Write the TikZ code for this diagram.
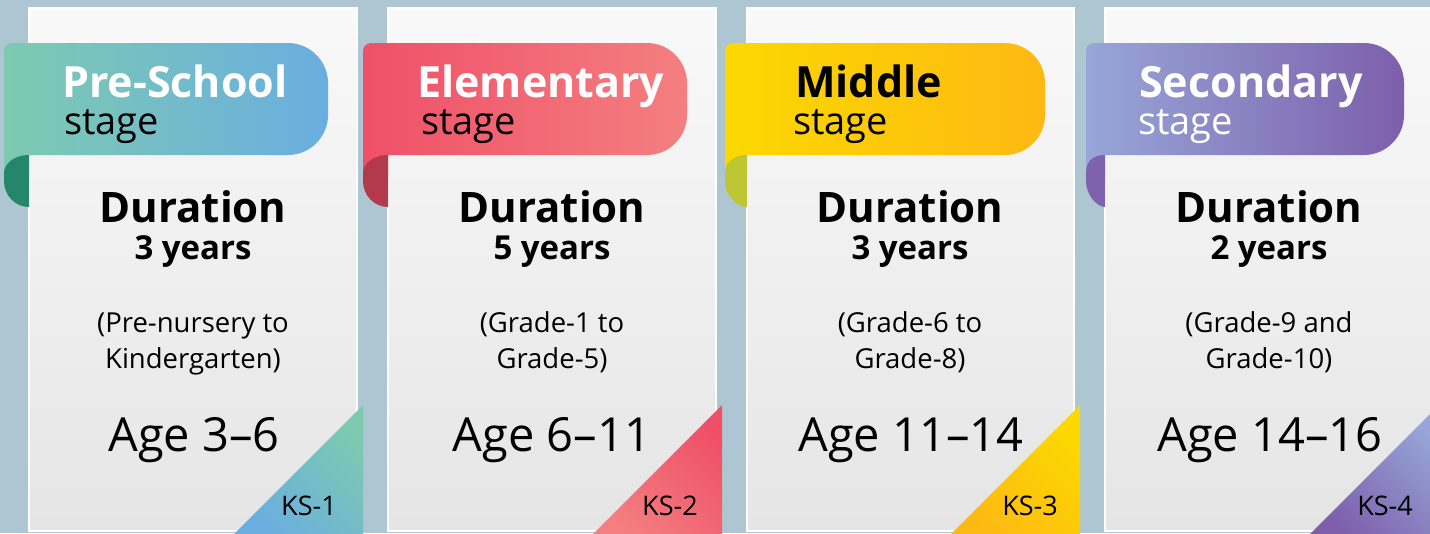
\documentclass[tikz,border=0pt]{standalone}
\usepackage{fontspec}
\setmainfont{Open Sans}
\definecolor{bg}{HTML}{AEC6D1}
\definecolor{cardT}{HTML}{F9F9F9}
\definecolor{cardB}{HTML}{E6E5E5}
\definecolor{oneA}{HTML}{7DCAB0}\definecolor{oneB}{HTML}{6AAEE0}\definecolor{oneF}{HTML}{24876B}
\definecolor{twoA}{HTML}{EF5068}\definecolor{twoB}{HTML}{F47F80}\definecolor{twoF}{HTML}{B23A4A}
\definecolor{thrA}{HTML}{FCD800}\definecolor{thrB}{HTML}{FDB913}\definecolor{thrF}{HTML}{BEC633}
\definecolor{fouA}{HTML}{97A6D8}\definecolor{fouB}{HTML}{7D5FAB}\definecolor{fouF}{HTML}{7E62AE}
\tikzset{
  ttl/.style={anchor=base west, inner sep=0pt, font=\fontsize{43}{43}\selectfont\bfseries},
  stg/.style={anchor=base west, inner sep=0pt, font=\fontsize{38}{38}\selectfont},
  dur/.style={anchor=base, inner sep=0pt, font=\fontsize{42}{42}\selectfont\bfseries},
  yrs/.style={anchor=base, inner sep=0pt, font=\fontsize{33}{33}\selectfont\bfseries},
  grd/.style={anchor=base, inner sep=0pt, font=\fontsize{27.5}{27.5}\selectfont},
  agetxt/.style={anchor=base, inner sep=0pt, font=\fontsize{47}{47}\selectfont},
  kstxt/.style={anchor=base, inner sep=0pt, font=\fontsize{27}{27}\selectfont},
}
% #1 card left, #2 card right, #3 banner left, #4 banner right, #5 triangle right, #6 colour prefix
\newcommand\stagecard[6]{%
  \shade[top color=cardT, bottom color=cardB, draw=white, line width=2.5pt] (#1,8) rectangle (#2,531);
  \shade[left color=#6A, right color=#6B]
    (#3,178) -- (#3,51) .. controls (#3,46.6) and ({#3+3.6},43) .. ({#3+8},43)
    -- ({#4-40},43) .. controls ({#4-18},43) and (#4,61) .. (#4,83)
    -- (#4,115) .. controls (#4,137) and ({#4-18},155) .. ({#4-40},155)
    -- (#1,155) -- (#1,178) -- cycle;
  \fill[#6F] (#1,155) .. controls ({#1-13.8},155) and (#3,163) .. (#3,173)
    -- (#3,181) .. controls (#3,195.4) and ({#3+11.2},207) .. (#1,207) -- cycle;
  \shade[left color=#6A, right color=#6B, shading angle=-45]
    ({#5-131},536) -- (#5,405) -- (#5,536) -- cycle;
}
\begin{document}
\begin{tikzpicture}[x=1pt,y=-1pt]
\useasboundingbox (0,0) rectangle (1430,533);
\clip (0,0) rectangle (1430,533);
\fill[bg] (0,0) rectangle (1430,533);

\stagecard{29}{357}{4}{328}{363}{one}
\stagecard{388}{716}{363}{687}{722}{two}
\stagecard{747}{1074}{725}{1045}{1080}{thr}
\stagecard{1105}{1433}{1086}{1404}{1439}{fou}

% card 1
\node[ttl, white] (t1) at (62,97) {Pre-School};
\node[stg, black] (s1) at (64,134) {stage};
\node[dur] (d1) at (193,222) {Duration};
\node[yrs] (y1) at (193,259) {3 years};
\node[grd] (g1) at (193,332) {(Pre-nursery to};
\node[grd] (h1) at (193,368) {Kindergarten)};
\node[agetxt] (a1) at (194,451) {Age 3--6};
\node[kstxt] (k1) at (309,515) {KS-1};

% card 2
\node[ttl, white] (t2) at (417,97) {Elementary};
\node[stg, black] (s2) at (421,134) {stage};
\node[dur] (d2) at (552,222) {Duration};
\node[yrs] (y2) at (552,259) {5 years};
\node[grd] (g2) at (552,332) {(Grade-1 to};
\node[grd] (h2) at (552,368) {Grade-5)};
\node[agetxt] (a2) at (552,451) {Age 6--11};
\node[kstxt] (k2) at (670,515) {KS-2};

% card 3
\node[ttl, black] (t3) at (795,97) {Middle};
\node[stg, black] (s3) at (793,134) {stage};
\node[dur] (d3) at (910,222) {Duration};
\node[yrs] (y3) at (910,259) {3 years};
\node[grd] (g3) at (910,332) {(Grade-6 to};
\node[grd] (h3) at (910,368) {Grade-8)};
\node[agetxt] (a3) at (911,451) {Age 11--14};
\node[kstxt] (k3) at (1030,515) {KS-3};

% card 4
\node[ttl, white] (t4) at (1139,97) {Secondary};
\node[stg, white] (s4) at (1138,134) {stage};
\node[dur] (d4) at (1269,222) {Duration};
\node[yrs] (y4) at (1269,259) {2 years};
\node[grd] (g4) at (1269,332) {(Grade-9 and};
\node[grd] (h4) at (1269,368) {Grade-10)};
\node[agetxt] (a4) at (1270,451) {Age 14--16};
\node[kstxt] (k4) at (1385,515) {KS-4};
\end{tikzpicture}
\end{document}
